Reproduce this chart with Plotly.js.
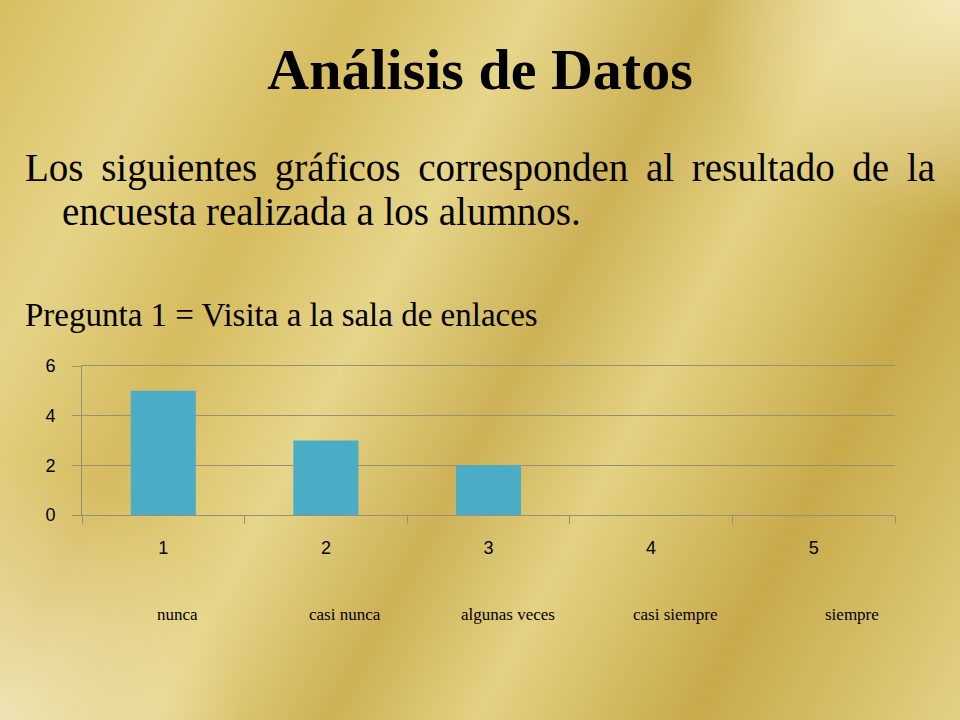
<!DOCTYPE html>
<html>
<head>
<meta charset="utf-8">
<script src="https://cdn.plot.ly/plotly-3.0.1.min.js"></script>
<style>
  html, body { margin: 0; padding: 0; }
  body {
    width: 960px; height: 720px; overflow: hidden; position: relative;
    background:
      radial-gradient(ellipse 260px 220px at 100% 0%, rgba(246,236,190,0.95), rgba(246,236,190,0) 100%),
      radial-gradient(ellipse 240px 260px at 0% 100%, rgba(240,230,185,0.95), rgba(240,230,185,0) 100%),
      linear-gradient(118deg, #d8be62 0%, #e5d487 14%, #d6bb5f 27%, #e6d68a 40%, #cdb156 53%, #e3d283 64%, #c8aa4a 80%, #e2d184 100%);
    font-family: "Liberation Serif", serif;
    color: #000;
  }
  #chart { position: absolute; left: 0; top: 0; width: 960px; height: 720px; }
  .txt { position: absolute; white-space: nowrap; line-height: 1; }
  #title { left: 0; width: 960px; top: 41px; text-align: center; font-size: 58px; font-weight: bold; }
  #body1 { left: 25px; width: 910px; top: 148px; font-size: 39px; text-align: justify; text-align-last: justify; }
  #body2 { left: 62px; top: 192px; font-size: 39px; }
  #preg { left: 25px; top: 299px; font-size: 33px; }
</style>
</head>
<body>
<div id="chart"></div>
<div class="txt" id="title">Análisis de Datos</div>
<div class="txt" id="body1">Los siguientes gráficos corresponden al resultado de la</div>
<div class="txt" id="body2">encuesta realizada a los alumnos.</div>
<div class="txt" id="preg">Pregunta 1 = Visita a la sala de enlaces</div>
<script>
// respuestas de la pregunta 1
var categorias = ['1', '2', '3', '4', '5'];
var respuestas = [5, 3, 2, 0, 0];
var etiquetas = ['nunca', 'casi nunca', 'algunas veces', 'casi siempre', 'siempre'];
var yTicks = [0, 2, 4, 6];

var labelShift = [14, 19, 19, 24, 38]; // the labels sit a bit right of each category

var trace = {
  type: 'bar',
  x: categorias,
  y: respuestas,
  marker: { color: '#4bacc6' },
  hoverinfo: 'none',
};

// NOTE: on a category axis the annotation x is the category index
var annotations = etiquetas.map(function (t, i) {
  return {
    x: i,
    y: 0,
    xref: 'x',
    yref: 'y',
    yanchor: 'middle',
    xshift: labelShift[i],
    yshift: -99,
    text: t,
    showarrow: false,
    font: { family: 'Liberation Serif, serif', size: 17, color: '#000000' },
  };
});

var lineGray = '#958f7e';

var layout = {
  width: 960,
  height: 720,
  margin: { l: 82, r: 65, t: 366, b: 205, pad: 0 },
  paper_bgcolor: 'rgba(0,0,0,0)',
  plot_bgcolor: 'rgba(0,0,0,0)',
  showlegend: false,
  bargap: 0.6,
  font: { family: 'Liberation Sans, sans-serif', size: 18, color: '#000000' },
  xaxis: {
    type: 'category',
    range: [-0.5, 4.5],
    tickson: 'boundaries',
    ticks: 'outside',
    ticklen: 8,
    tickcolor: lineGray,
    showline: true,
    mirror: true,
    linecolor: lineGray,
    linewidth: 1,
    showgrid: false,
    ticklabelstandoff: 16,
    tickfont: { family: 'Liberation Sans, sans-serif', size: 18 },
    fixedrange: true,
  },
  yaxis: {
    range: [0, 6],
    tickvals: yTicks,
    ticks: 'outside',
    ticklen: 9,
    tickcolor: lineGray,
    showline: true,
    linecolor: lineGray,
    showgrid: true,
    gridcolor: lineGray,
    gridwidth: 1,
    zeroline: false,
    ticklabelstandoff: 13,
    tickfont: { family: 'Liberation Sans, sans-serif', size: 18 },
    fixedrange: true,
  },
  annotations: annotations,
};

Plotly.newPlot('chart', [trace], layout, { displayModeBar: false, staticPlot: true });
</script>
</body>
</html>
